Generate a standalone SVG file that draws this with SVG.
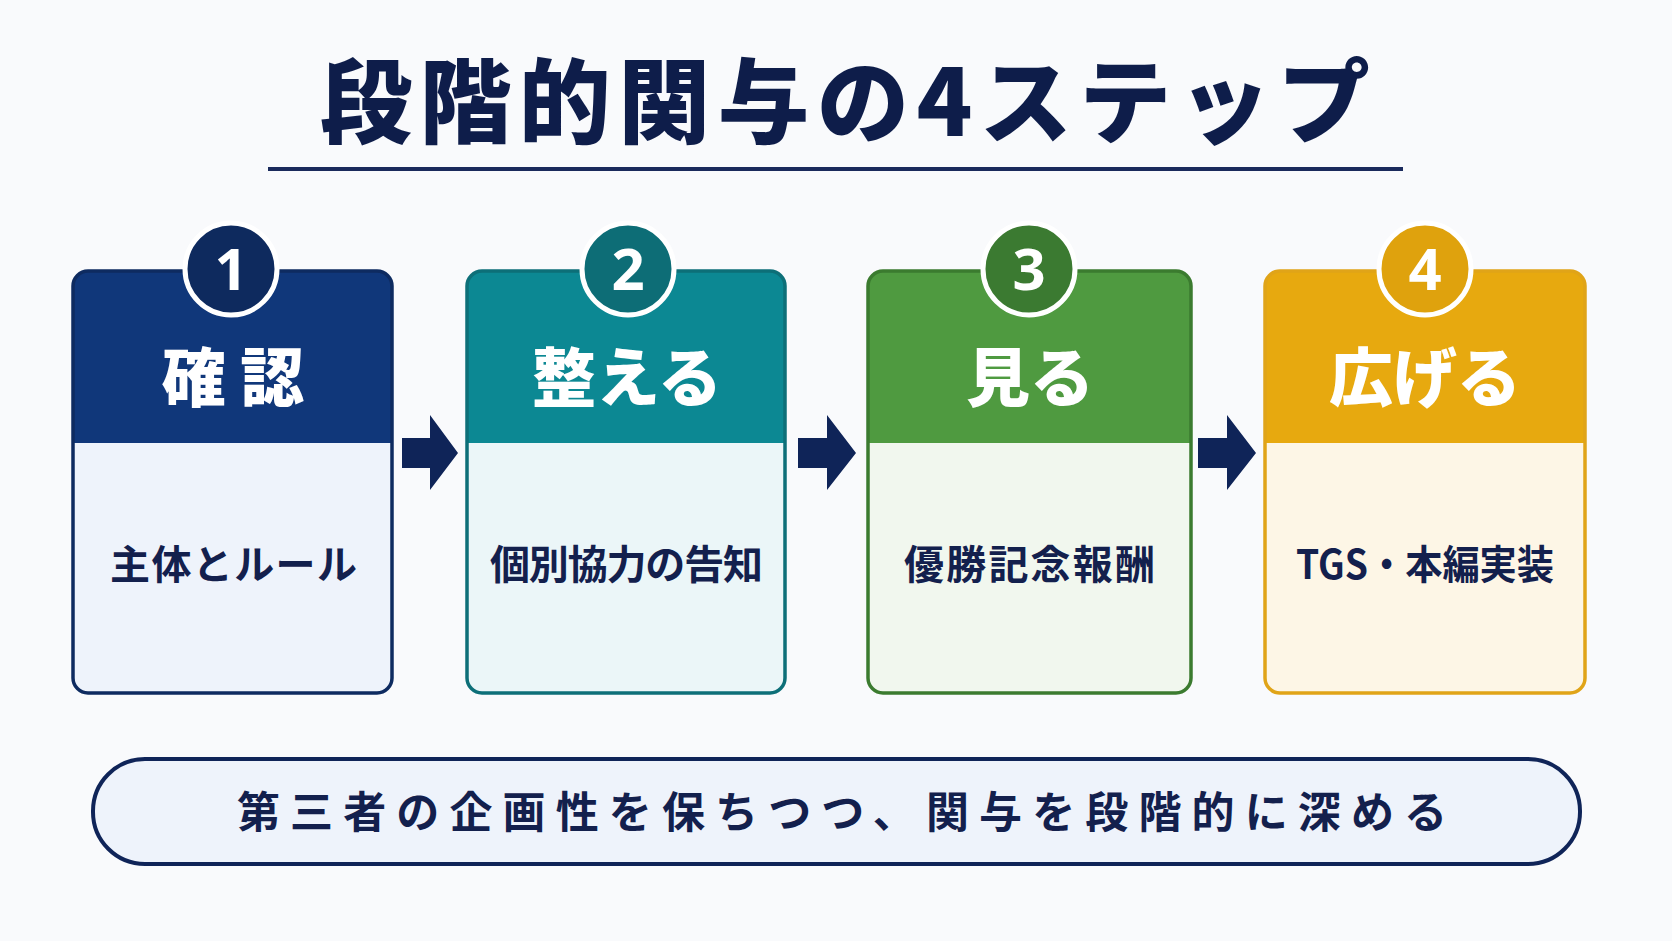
<svg xmlns="http://www.w3.org/2000/svg" width="1672" height="941" viewBox="0 0 1672 941">
  <defs>
    <style>
      .jp { font-family: "Noto Sans CJK JP", "Noto Sans", sans-serif; }
      .title { font-size: 92px; font-weight: 900; fill: #0e1d4a; }
      .head { font-size: 64px; font-weight: 900; fill: #ffffff; }
      .body { font-size: 40px; font-weight: 700; fill: #13204d; }
      .num { font-family: "Noto Sans", "Liberation Sans", sans-serif; font-size: 58px; font-weight: 700; fill: #ffffff; }
      .frame { fill: none; stroke-width: 3.5; }
      .ring { stroke: #ffffff; stroke-width: 5; }
      .arrow { fill: #0f2458; }
      .note { font-size: 43px; font-weight: 700; fill: #13204d; }
    </style>
  </defs>

  <rect width="1672" height="941" fill="#f9fafc"/>

  <!-- title -->
  <g id="title">
    <text class="jp title" x="320" y="136" textLength="1050" lengthAdjust="spacing">段階的関与の4ステップ</text>
    <rect x="268" y="167" width="1135" height="4" fill="#1a2a5c"/>
  </g>

  <!-- step 1 -->
  <g id="step1">
    <rect x="73" y="271" width="319" height="422" rx="15" fill="#eef3fb"/>
    <path d="M73 443 V286 A15 15 0 0 1 88 271 H377 A15 15 0 0 1 392 286 V443 Z" fill="#10377a"/>
    <rect class="frame" x="73" y="271" width="319" height="422" rx="15" stroke="#0e2b60"/>
    <circle class="ring" cx="231" cy="269" r="46" fill="#0e2a5e"/>
    <text class="num" x="231" y="290" text-anchor="middle">1</text>
    <text class="jp head" x="233" y="401" text-anchor="middle">確 認</text>
    <text class="jp body" x="110" y="579" textLength="247" lengthAdjust="spacing">主体とルール</text>
  </g>

  <!-- step 2 -->
  <g id="step2">
    <rect x="467" y="271" width="318" height="422" rx="15" fill="#ebf6f8"/>
    <path d="M467 443 V286 A15 15 0 0 1 482 271 H770 A15 15 0 0 1 785 286 V443 Z" fill="#0c8893"/>
    <rect class="frame" x="467" y="271" width="318" height="422" rx="15" stroke="#0d6f78"/>
    <circle class="ring" cx="628" cy="269" r="46" fill="#0d6d76"/>
    <text class="num" x="628" y="290" text-anchor="middle">2</text>
    <text class="jp head" x="627" y="401" text-anchor="middle">整える</text>
    <text class="jp body" x="490" y="579" textLength="273" lengthAdjust="spacing">個別協力の告知</text>
  </g>

  <!-- step 3 -->
  <g id="step3">
    <rect x="868" y="271" width="323" height="422" rx="15" fill="#f1f7ee"/>
    <path d="M868 443 V286 A15 15 0 0 1 883 271 H1176 A15 15 0 0 1 1191 286 V443 Z" fill="#4f9a40"/>
    <rect class="frame" x="868" y="271" width="323" height="422" rx="15" stroke="#3b7b2f"/>
    <circle class="ring" cx="1029" cy="269" r="46" fill="#3b7a31"/>
    <text class="num" x="1029" y="290" text-anchor="middle">3</text>
    <text class="jp head" x="1030" y="401" text-anchor="middle">見る</text>
    <text class="jp body" x="904" y="579" textLength="251" lengthAdjust="spacing">優勝記念報酬</text>
  </g>

  <!-- step 4 -->
  <g id="step4">
    <rect x="1265" y="271" width="320" height="422" rx="15" fill="#fdf6e6"/>
    <path d="M1265 443 V286 A15 15 0 0 1 1280 271 H1570 A15 15 0 0 1 1585 286 V443 Z" fill="#e7a90f"/>
    <rect class="frame" x="1265" y="271" width="320" height="422" rx="15" stroke="#e0a418"/>
    <circle class="ring" cx="1425" cy="269" r="46" fill="#dfa20d"/>
    <text class="num" x="1425" y="290" text-anchor="middle">4</text>
    <text class="jp head" x="1425" y="401" text-anchor="middle">広げる</text>
    <text class="jp body" x="1296" y="579" textLength="258" lengthAdjust="spacingAndGlyphs">TGS・本編実装</text>
  </g>

  <!-- connectors -->
  <g id="connectors">
    <polygon class="arrow" points="402,438 430,438 430,415 458,453 430,490 430,468 402,468"/>
    <polygon class="arrow" points="798,438 827,438 827,415 856,453 827,490 827,468 798,468"/>
    <polygon class="arrow" points="1198,438 1227,438 1227,415 1256,453 1227,490 1227,468 1198,468"/>
  </g>

  <!-- summary -->
  <g id="summary">
    <rect x="93" y="759" width="1487" height="105" rx="52" fill="#eef3fb" stroke="#0f2458" stroke-width="4"/>
    <text class="jp note" x="237" y="828" textLength="1210" lengthAdjust="spacing">第三者の企画性を保ちつつ、関与を段階的に深める</text>
  </g>
</svg>
